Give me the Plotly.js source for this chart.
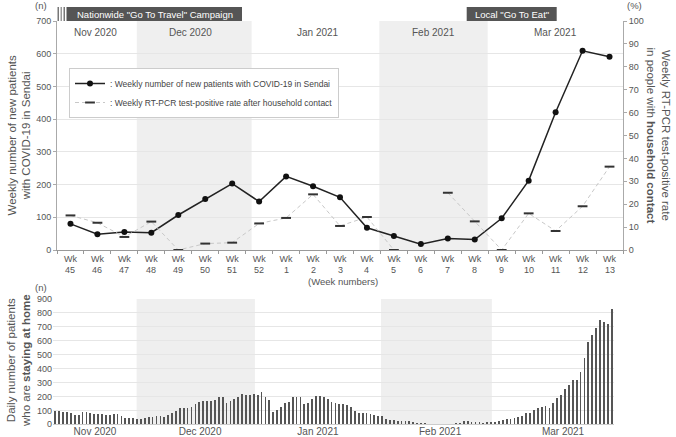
<!DOCTYPE html>
<html><head><meta charset="utf-8">
<script src="https://cdn.plot.ly/plotly-3.0.1.min.js"></script>
<style>html,body{margin:0;padding:0;background:#fff;} #chart{width:676px;height:437px;}</style>
</head><body><div id="chart"></div>
<script>
// ---- data ----
const weekNums = ["45","46","47","48","49","50","51","52","1","2","3","4","5","6","7","8","9","10","11","12","13"];
const weeklyPatients = [80,48,55,53,107,156,203,148,225,195,161,68,43,18,35,32,97,212,421,609,591];
const positiveRate = [15.1,11.9,5.7,12.4,0,2.8,3.2,11.6,14.0,24.3,10.5,14.4,0,null,25,12.5,0,16,8.3,19.1,36.4];
const monthLabels = ["Nov 2020","Dec 2020","Jan 2021","Feb 2021","Mar 2021"];
const dailyStayingHome = [
 95,93,88,88,83,67,69,88,86,81,74,74,71,67,67,74,74,62,43,43,43,40,38,43,50,55,60,60,52,64,79,98,114,117,117,126,143,157,
 164,164,164,171,193,193,150,167,179,193,221,214,214,217,207,229,193,171,86,102,121,155,157,193,193,193,143,152,183,202,205,198,
 181,160,150,143,143,138,126,95,83,83,83,71,67,60,57,40,31,29,24,24,21,21,17,12,12,7,5,5,5,5,5,5,5,7,12,21,21,19,19,17,
 12,14,19,19,21,33,36,36,45,55,60,79,83,105,119,126,131,119,155,186,207,252,279,321,317,374,479,590,645,695,748,733,717,831
];
const seriesNames = [": Weekly number of new patients with COVID-19 in Sendai", ": Weekly RT-PCR test-positive rate after household contact"];

// ---- helpers (pixel -> paper) ----
const W = 676, H = 437;
const px = x => x / W, py = y => 1 - y / H;
const FONT = "Liberation Sans, Arial, sans-serif";
const GREY = "#555";

const cats = weekNums.map(n => "w" + n);
const dayIdx = dailyStayingHome.map((_, i) => i);

const rateMarker = {symbol: "line-ew", size: 7, line: {color: "#333", width: 2}};
const rateLine = {color: "#c8c8c8", width: 1, dash: "4px,3px"};

const traces = [
  {type: "scatter", mode: "lines", x: cats, y: positiveRate, xaxis: "x", yaxis: "y2",
   line: rateLine, connectgaps: false, showlegend: false, hoverinfo: "skip"},
  {type: "scatter", mode: "markers", x: cats, y: positiveRate, xaxis: "x", yaxis: "y2",
   marker: rateMarker, showlegend: false, cliponaxis: false},
  {type: "scatter", mode: "lines+markers", x: cats, y: weeklyPatients, xaxis: "x", yaxis: "y",
   name: seriesNames[0], line: {color: "#222", width: 1.5}, marker: {color: "#111", size: 6}},
  {type: "scatter", mode: "lines+markers", x: [null], y: [null], xaxis: "x", yaxis: "y2",
   name: seriesNames[1], line: rateLine, marker: rateMarker},
  {type: "bar", x: dayIdx, y: dailyStayingHome, xaxis: "x2", yaxis: "y3", width: 0.45,
   marker: {color: "#555"}, showlegend: false}
];

const tickFont = {family: FONT, size: 9, color: GREY};

const shapes = [
  // top shading
  {type: "rect", xref: "x", yref: "y domain", x0: 2.46, x1: 6.72, y0: 0, y1: 1, fillcolor: "#efefef", line: {width: 0}, layer: "below"},
  {type: "rect", xref: "x", yref: "y domain", x0: 11.46, x1: 15.48, y0: 0, y1: 1, fillcolor: "#efefef", line: {width: 0}, layer: "below"},
  // bottom shading
  {type: "rect", xref: "x2", yref: "y3 domain", x0: 20.9, x1: 51.3, y0: 0, y1: 1, fillcolor: "#efefef", line: {width: 0}, layer: "below"},
  {type: "rect", xref: "x2", yref: "y3 domain", x0: 83.7, x1: 112.2, y0: 0, y1: 1, fillcolor: "#efefef", line: {width: 0}, layer: "below"},
  // campaign bars
  {type: "rect", xref: "paper", yref: "paper", x0: px(57.5), x1: px(59), y0: py(21), y1: py(7), fillcolor: "#777", line: {width: 0}},
  {type: "rect", xref: "paper", yref: "paper", x0: px(60.5), x1: px(62), y0: py(21), y1: py(7), fillcolor: "#999", line: {width: 0}},
  {type: "rect", xref: "paper", yref: "paper", x0: px(63.5), x1: px(65), y0: py(21), y1: py(7), fillcolor: "#777", line: {width: 0}},
  {type: "rect", xref: "paper", yref: "paper", x0: px(66.5), x1: px(242), y0: py(21), y1: py(7), fillcolor: "#555", line: {width: 0}},
  {type: "rect", xref: "paper", yref: "paper", x0: px(466.7), x1: px(556.7), y0: py(21), y1: py(7), fillcolor: "#555", line: {width: 0}}
];

const ann = (x, y, text, extra) => Object.assign({xref: "paper", yref: "paper", x: px(x), y: py(y), text: text,
  showarrow: false, xanchor: "center", yanchor: "middle", font: {family: FONT, size: 10, color: GREY}}, extra || {});

const annotations = [
  ann(155, 14, 'Nationwide "Go To Travel" Campaign', {font: {family: FONT, size: 9.5, color: "#fff"}}),
  ann(511.7, 14, 'Local "Go To Eat"', {font: {family: FONT, size: 9.5, color: "#fff"}}),
  ann(41, 6, "(n)", {font: {family: FONT, size: 9.5, color: GREY}}),
  ann(634, 6, "(%)", {font: {family: FONT, size: 9.5, color: GREY}}),
  ann(41, 287, "(n)", {font: {family: FONT, size: 9.5, color: GREY}}),
  ann(343, 281, "(Week numbers)", {font: {family: FONT, size: 9.5, color: GREY}}),
  ann(19, 135.5, "Weekly number of new patients<br>with COVID-19 in Sendai", {textangle: -90, font: {family: FONT, size: 11.5, color: GREY}}),
  ann(658, 135.5, "Weekly RT-PCR test-positive rate<br>in people with <b>household contact</b>", {textangle: 90, font: {family: FONT, size: 11.5, color: GREY}}),
  ann(18, 361, "Daily number of patients<br>who are <b>staying at home</b>", {textangle: -90, font: {family: FONT, size: 11.5, color: GREY}})
];
const topMonthX = [95, 190, 318, 434, 555];
monthLabels.forEach((m, i) => annotations.push(ann(topMonthX[i], 33, m, {font: {family: FONT, size: 10, color: GREY}})));
weekNums.forEach((n, i) => annotations.push({xref: "x", yref: "paper", x: cats[i], y: py(269.5), text: n, showarrow: false,
  xanchor: "center", yanchor: "middle", font: tickFont}));

const layout = {
  width: W, height: H, margin: {l: 0, r: 0, t: 0, b: 0},
  paper_bgcolor: "#fff", plot_bgcolor: "rgba(0,0,0,0)",
  font: {family: FONT, color: GREY},
  showlegend: true,
  legend: {x: px(69), y: py(68), xanchor: "left", yanchor: "top", bgcolor: "#fff", bordercolor: "#ccc", borderwidth: 1,
           font: {family: FONT, size: 8.5, color: "#444"}, itemwidth: 30, tracegroupgap: 0},
  xaxis: {domain: [px(57), px(623)], anchor: "y", type: "category", range: [-0.5, 20.5],
          tickmode: "array", tickvals: cats, ticktext: cats.map(() => "Wk"), tickson: "boundaries",
          ticks: "outside", ticklen: 3, tickcolor: "#999", showline: true, linecolor: "#999", linewidth: 1,
          showgrid: false, zeroline: false, tickfont: tickFont, fixedrange: true},
  yaxis: {domain: [py(250), py(21)], anchor: "x", range: [0, 700], dtick: 100, ticks: "outside", ticklen: 3,
          tickcolor: "#aaa", showline: true, linecolor: "#aaa", gridcolor: "#e6e6e6", zeroline: false, tickfont: tickFont},
  yaxis2: {overlaying: "y", side: "right", anchor: "x", range: [0, 100], dtick: 10, ticks: "outside", ticklen: 3,
           tickcolor: "#aaa", showline: true, linecolor: "#aaa", showgrid: false, zeroline: false, tickfont: tickFont},
  xaxis2: {domain: [px(53), px(614)], anchor: "y3", range: [-0.6, 143.6], tickmode: "array",
           tickvals: [10.2, 37.2, 67.5, 98.9, 130.5], ticktext: monthLabels, ticks: "", showgrid: false,
           showline: false, zeroline: false, tickfont: {family: FONT, size: 10, color: GREY}},
  yaxis3: {domain: [py(424.3), py(299)], anchor: "x2", range: [0, 900], dtick: 100, ticks: "", showline: false,
           gridcolor: "#e6e6e6", zeroline: true, zerolinecolor: "#ccc", tickfont: tickFont},
  shapes: shapes, annotations: annotations, bargap: 0
};

Plotly.newPlot("chart", traces, layout, {displayModeBar: false, staticPlot: true});
</script></body></html>
